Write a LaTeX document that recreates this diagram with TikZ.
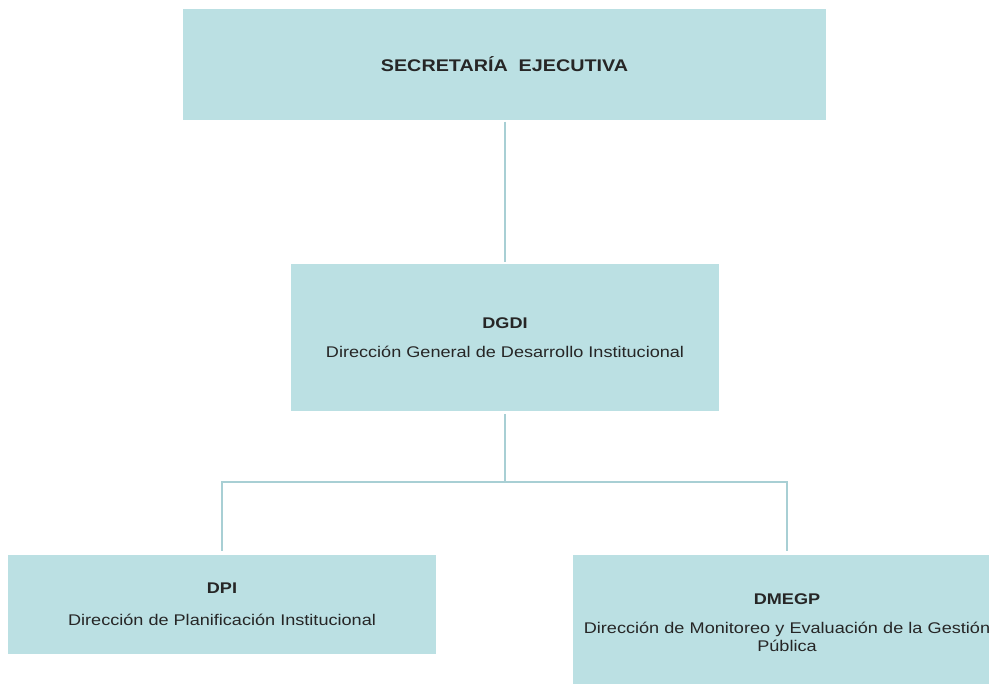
\documentclass[tikz,border=0pt]{standalone}
\usepackage{fontspec}
\setmainfont{Liberation Sans}[FakeStretch=1.17]
\usetikzlibrary{positioning,calc}
\definecolor{boxfill}{HTML}{BBE0E3}
\definecolor{linkcol}{HTML}{A8CFD4}

\begin{document}
\begin{tikzpicture}[
  x=0.025cm, y=-0.025cm,
  font=\fontsize{11}{13.5}\selectfont,
  unit/.style ={fill=boxfill,inner sep=4pt,align=center,text=black!85},
  link/.style ={draw=linkcol,line width=1.6pt}
]

% ==================================================
% FRAME (pixel grid of the page)
% ==================================================
\clip (0,0) rectangle (989,684);

% ==================================================
% BOXES
% ==================================================
\node[unit, minimum width=643*0.025cm, minimum height=111*0.025cm] (secretaria) at (504.5,64.5)
  {\fontsize{12}{15}\selectfont\bfseries SECRETARÍA\ \ EJECUTIVA};

\node[unit, minimum width=428*0.025cm, minimum height=147*0.025cm] (dgdi) at (505,337.5)
  {\textbf{DGDI}\\[7pt] Dirección General de Desarrollo Institucional};

\node[unit, minimum width=428*0.025cm, minimum height=99*0.025cm] (dpi) at (222,604.5)
  {\textbf{DPI}\\[9pt] Dirección de Planificación Institucional};

\node[unit, minimum width=428*0.025cm, minimum height=135*0.025cm, text width=416*0.025cm] (dmegp) at (787,622.5)
  {\textbf{DMEGP}\\[7pt] Dirección de Monitoreo y Evaluación de la Gestión\\[-1pt] Pública};

% ==================================================
% CONNECTORS
% ==================================================
\coordinate (split) at (dgdi.south |- 0,482);

\draw[link, shorten <=1pt, shorten >=1pt] (secretaria.south -| dgdi.south) -- (dgdi.north);
\draw[link, shorten <=2pt] (dgdi.south) -- (split);
\draw[link, shorten >=3pt] (split) -| (dpi.north);
\draw[link, shorten >=3pt] (split) -| (dmegp.north);

\end{tikzpicture}
\end{document}
